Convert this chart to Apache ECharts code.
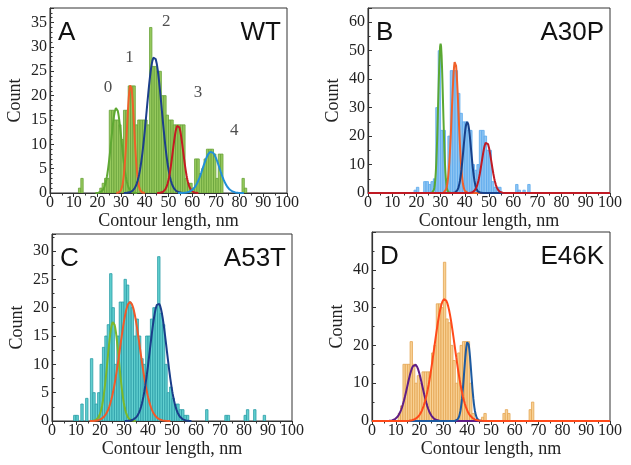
<!DOCTYPE html>
<html>
<head>
<meta charset="utf-8">
<script src="https://cdn.jsdelivr.net/npm/echarts@6/dist/echarts.min.js"></script>
<style>
  html, body { margin: 0; padding: 0; background: #fff; }
  #chart { width: 631px; height: 465px; }
</style>
</head>
<body>
<div id="chart"></div>
<script>
// histogram counts, one value per 1 nm bin, first bin given separately
var wtFirstBin = 12;
var wtCounts = [1, 3, 0, 0, 0, 0, 0, 0, 0, 1, 2, 3, 3, 17, 17, 15, 15, 14, 11, 17, 17, 22, 22, 22, 14, 15,
    15, 15, 15, 14, 34, 26, 26, 25, 25, 20, 20, 16, 15, 15, 14, 14, 14, 14, 14, 3, 2, 2, 1, 7, 7, 4, 5, 7,
    9, 9, 9, 8, 3, 8, 8, 0, 0, 0, 0, 0, 0, 0, 0, 3, 1];
var a30pFirstBin = 19;
var a30pCounts = [1, 2, 0, 0, 4, 4, 3, 4, 5, 30, 50, 22, 22, 5, 20, 43, 43, 43, 35, 28, 25, 25, 22, 22, 10,
    8, 10, 22, 22, 20, 15, 15, 4, 2, 2, 2, 0, 0, 0, 0, 0, 0, 3, 1, 0, 1, 0, 3];
var a53tFirstBin = 9;
var a53tCounts = [1, 1, 0, 3, 0, 4, 0, 11, 5, 3, 5, 10, 13, 15, 17, 26, 20, 10, 15, 21, 21, 25, 24, 21, 20,
    15, 18, 15, 11, 10, 15, 15, 18, 20, 20, 29, 19, 17, 10, 5, 6, 4, 3, 3, 2, 2, 1, 1, 0, 0, 0, 0, 0, 0, 0,
    2, 0, 0, 0, 0, 0, 0, 0, 1, 1, 0, 0, 0, 0, 0, 0, 1, 2, 0, 0, 2, 0, 0, 0, 1];
var e46kFirstBin = 11;
var e46kCounts = [2, 4, 15, 15, 15, 21, 15, 10, 12, 10, 13, 13, 13, 13, 18, 20, 31, 31, 30, 42, 27, 26, 20,
    16, 10, 18, 20, 21, 21, 21, 10, 2, 0, 0, 0, 1, 2, 0, 0, 0, 0, 0, 0, 0, 2, 3, 2, 0, 0, 0, 0, 0, 0, 0, 0,
    3, 5];

// gaussian fits: [mean, sigma, height]
var wtFits = [[28, 2.2, 17.5], [34, 1.5, 22.3], [44, 3.2, 28], [54, 2.2, 14], [68, 3.5, 8.5]];
var a30pFits = [[30, 1.0, 52.5], [36, 1.4, 46.5], [41, 1.6, 25], [49, 2.0, 18]];
var a53tFits = [[25.5, 2.4, 17.5], [32.5, 4.2, 21], [44.3, 3.5, 20.8]];
var e46kFits = [[18, 3.2, 15], [40.2, 1.5, 21], [30.5, 4.3, 32.3]];

// peak numbers in panel A
var wtPeakNames = ['0', '1', '2', '3', '4'];
var wtPeakX = [24.5, 33.5, 49, 62.4, 77.7];
var wtPeakY = [21.6, 27.8, 35.2, 20.6, 12.8];

var xTicks = [0, 10, 20, 30, 40, 50, 60, 70, 80, 90, 100];

var serif = '"Liberation Serif", "Times New Roman", serif';
var sans = '"Liberation Sans", Arial, sans-serif';

var panels = [
    { letter: 'A', name: 'WT', first: wtFirstBin, counts: wtCounts, fits: wtFits,
      fill: '#98ca5e', stroke: '#67a238', curves: ['#5ea832', '#f0602a', '#1c3f8c', '#c41a22', '#2290d8'],
      grid: { left: 50, top: 8, width: 237, height: 185 }, yMax: 38, yStep: 5, yMinor: 5, full: false },
    { letter: 'B', name: 'A30P', first: a30pFirstBin, counts: a30pCounts, fits: a30pFits,
      fill: '#8fc6f3', stroke: '#5aa8ec', curves: ['#5aa832', '#f0602a', '#17408a', '#c01a24'],
      grid: { left: 368, top: 8, width: 242, height: 185 }, yMax: 65, yStep: 10, yMinor: 2, full: true },
    { letter: 'C', name: 'A53T', first: a53tFirstBin, counts: a53tCounts, fits: a53tFits,
      fill: '#62d0d0', stroke: '#2a9ca6', curves: ['#7cb82a', '#f05a2a', '#1a3d8a'],
      grid: { left: 52, top: 234, width: 240, height: 187 }, yMax: 33, yStep: 5, yMinor: 2, full: false },
    { letter: 'D', name: 'E46K', first: e46kFirstBin, counts: e46kCounts, fits: e46kFits,
      fill: '#f9d194', stroke: '#e3a452', curves: ['#5f1d86', '#1d5aa0', '#ff4a1a'],
      grid: { left: 372, top: 232, width: 238, height: 189 }, yMax: 50, yStep: 10, yMinor: 2, full: true }
];

//gaussian curve points for one fit
function fitLine(fit, full) {
    var mu = fit[0], s = fit[1], h = fit[2];
    var from = full ? 0 : Math.max(0, mu - 4 * s);
    var to = full ? 100 : Math.min(100, mu + 4 * s);
    var pts = [];
    for (var x = from; x <= to + 1e-9; x += 0.2) {
        pts.push([x, h * Math.exp(-(x - mu) * (x - mu) / (2 * s * s))]);
    }
    return pts;
}

var grids = [], xAxes = [], yAxes = [], series = [], texts = [];

panels.forEach(function (p, i) {
    grids.push({
        left: p.grid.left, top: p.grid.top, width: p.grid.width, height: p.grid.height,
        show: true, borderColor: '#333', borderWidth: 1, backgroundColor: 'transparent'
    });
    xAxes.push({
        gridIndex: i, type: 'value', min: 0, max: 100, interval: 10,
        name: 'Contour length, nm', nameLocation: 'middle', nameGap: 18,
        nameTextStyle: { fontFamily: serif, fontSize: 18, color: '#222' },
        axisLine: { show: true, onZero: false, lineStyle: { color: '#333', width: 1.2 } },
        axisTick: { show: true, length: 4, lineStyle: { color: '#333' } },
        minorTick: { show: true, splitNumber: 2, length: 2.5, lineStyle: { color: '#333' } },
        splitLine: { show: false },
        axisLabel: { fontFamily: serif, fontSize: 16, color: '#222', margin: 2,
            showMaxLabel: true, showMinLabel: true,
            formatter: function (v) { return xTicks.indexOf(v) >= 0 ? String(v) : ''; } }
    });
    yAxes.push({
        gridIndex: i, type: 'value', min: 0, max: p.yMax, interval: p.yStep,
        name: 'Count', nameLocation: 'middle', nameGap: 26,
        nameTextStyle: { fontFamily: serif, fontSize: 18, color: '#222' },
        axisLine: { show: true, lineStyle: { color: '#333', width: 1.2 } },
        axisTick: { show: true, inside: true, length: 4, lineStyle: { color: '#333' } },
        minorTick: { show: true, splitNumber: p.yMinor, length: 2.5, lineStyle: { color: '#333' } },
        splitLine: { show: false },
        axisLabel: { fontFamily: serif, fontSize: 16, color: '#222', margin: 3,
            showMaxLabel: false }
    });

    // bars
    var barData = [];
    p.counts.forEach(function (c, j) {
        if (c > 0) barData.push([p.first + j, c]);
    });
    series.push({
        type: 'custom', xAxisIndex: i, yAxisIndex: i, data: barData,
        encode: { x: 0, y: 1 }, clip: true, silent: true,
        renderItem: (function (fill, stroke) {
            return function (params, api) {
                var k = api.value(0), v = api.value(1);
                var p0 = api.coord([k, 0]);
                var p1 = api.coord([k + 1, v]);
                return {
                    type: 'rect',
                    shape: { x: p0[0], y: p1[1], width: p1[0] - p0[0], height: p0[1] - p1[1] },
                    style: { fill: fill, stroke: stroke, lineWidth: 0.8 }
                };
            };
        })(p.fill, p.stroke)
    });

    // fitted peaks
    p.fits.forEach(function (f, j) {
        series.push({
            type: 'line', xAxisIndex: i, yAxisIndex: i, data: fitLine(f, p.full),
            showSymbol: false, symbol: 'none', silent: true, z: 3,
            lineStyle: { color: p.curves[j], width: 2 }
        });
    });

    texts.push({
        type: 'text', left: p.grid.left + 8, top: p.grid.top + 12,
        style: { text: p.letter, font: '26px ' + sans, fill: '#111' }
    });
    texts.push({
        type: 'text', right: 631 - (p.grid.left + p.grid.width) + 6, top: p.grid.top + 12,
        style: { text: p.name, font: '26px ' + sans, fill: '#111' }
    });
});

// peak labels in A
var labelData = [];
for (var i = 0; i < wtPeakNames.length; i++) {
    labelData.push({ value: [wtPeakX[i], wtPeakY[i]], name: wtPeakNames[i] });
}
series.push({
    type: 'scatter', xAxisIndex: 0, yAxisIndex: 0, data: labelData, symbolSize: 0, silent: true,
    label: { show: true, position: 'inside', formatter: '{b}', fontFamily: serif, fontSize: 17, color: '#222' }
});

var chart = echarts.init(document.getElementById('chart'), null, { renderer: 'canvas' });
chart.setOption({
    animation: false,
    backgroundColor: '#fff',
    grid: grids,
    xAxis: xAxes,
    yAxis: yAxes,
    series: series,
    graphic: texts
});
</script>
</body>
</html>
